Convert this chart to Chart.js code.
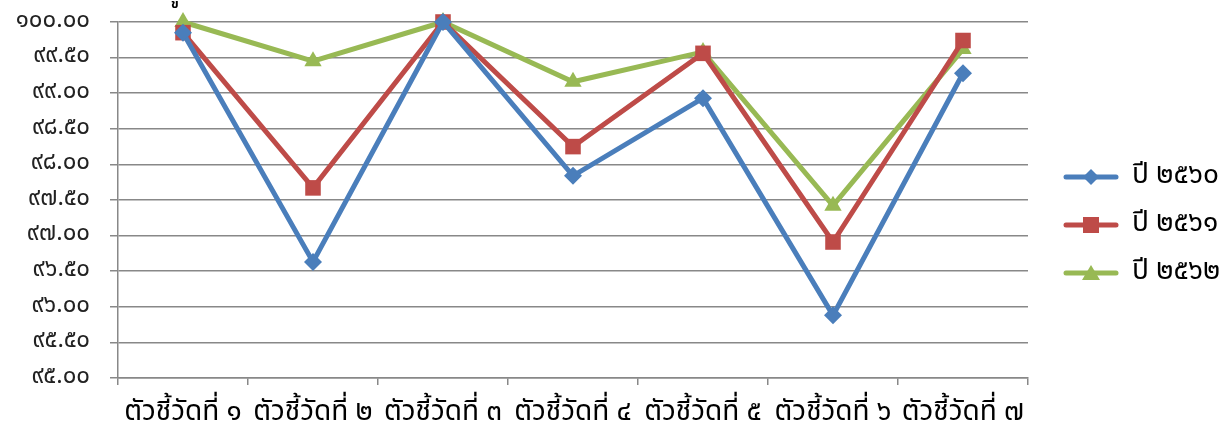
<!DOCTYPE html>
<html lang="th">
<head>
  <meta charset="UTF-8" />
  <title>ตัวชี้วัด</title>
  <style>
    html, body { margin: 0; padding: 0; background: #fff; }
    #wrap { width: 1229px; height: 428px; position: relative; }
  </style>
</head>
<body>
  <div id="wrap"><canvas id="chart"></canvas></div>

  <script src="https://cdn.jsdelivr.net/npm/chart.js"></script>
  <script>
    const categories = ['ตัวชี้วัดที่ ๑', 'ตัวชี้วัดที่ ๒', 'ตัวชี้วัดที่ ๓', 'ตัวชี้วัดที่ ๔',
                        'ตัวชี้วัดที่ ๕', 'ตัวชี้วัดที่ ๖', 'ตัวชี้วัดที่ ๗'];
    const seriesNames = ['ปี ๒๕๖๐', 'ปี ๒๕๖๑', 'ปี ๒๕๖๒'];
    const y2560 = [99.85, 96.63, 100.00, 97.84, 98.93, 95.88, 99.28];
    const y2561 = [99.85, 97.67, 100.00, 98.25, 99.56, 96.91, 99.74];
    const y2562 = [100.00, 99.45, 100.00, 99.16, 99.58, 97.42, 99.62];
    const yMin = 95, yMax = 100, yStep = 0.5;

    const thaiDigits = ['๐', '๑', '๒', '๓', '๔', '๕', '๖', '๗', '๘', '๙'];
    const toThai = s => String(s).replace(/[0-9]/g, d => thaiDigits[+d]);

    const FONT = 'Tahoma, "Noto Sans Thai", "Noto Sans", sans-serif';
    const colors = ['#4a7ebb', '#be4b48', '#98b954'];
    const styles = ['rectRot', 'rect', 'triangle'];

    // line + marker icon for the legend (blank strip on the left as spacing)
    function legendIcon(color, style) {
      const c = document.createElement('canvas');
      c.width = 72; c.height = 18;
      const g = c.getContext('2d');
      g.strokeStyle = color; g.fillStyle = color;
      g.lineWidth = 5; g.lineCap = 'round';
      g.beginPath(); g.moveTo(19, 9); g.lineTo(69, 9); g.stroke();
      g.beginPath();
      if (style === 'rectRot') {
        g.moveTo(44, 1); g.lineTo(52, 9); g.lineTo(44, 17); g.lineTo(36, 9);
      } else if (style === 'rect') {
        g.rect(36, 1, 16, 16);
      } else {
        g.moveTo(44, 1); g.lineTo(53, 16); g.lineTo(35, 16);
      }
      g.closePath(); g.fill();
      return c;
    }

    const makeSet = (label, data, i, radius) => ({
      label: label,
      data: data,
      borderColor: colors[i],
      backgroundColor: colors[i],
      borderWidth: 5,
      pointStyle: styles[i],
      pointRadius: radius,
      pointHoverRadius: radius,
      pointBorderWidth: 0,
      pointBackgroundColor: colors[i],
      tension: 0,
      clip: false
    });

    const topText = {
      id: 'topText',
      afterDraw(chart) {
        const ctx = chart.ctx;
        ctx.save();
        ctx.font = 'bold 13px ' + FONT;
        ctx.fillStyle = '#000';
        ctx.fillText('ข', 171, 8);
        ctx.restore();
      }
    };

    const chart = new Chart(document.getElementById('chart'), {
      type: 'line',
      data: {
        labels: categories,
        datasets: [
          makeSet(seriesNames[0], y2560, 0, 9),
          makeSet(seriesNames[1], y2561, 1, 11),
          makeSet(seriesNames[2], y2562, 2, 10)
        ]
      },
      options: {
        responsive: true,
        maintainAspectRatio: false,
        animation: false,
        layout: { padding: { top: 22, right: 0, left: 0, bottom: 0 } },
        plugins: {
          tooltip: { enabled: false },
          legend: {
            position: 'right',
            labels: {
              usePointStyle: true,
              pointStyleWidth: 70,
              padding: 20,
              color: '#000',
              font: { family: FONT, size: 28 },
              generateLabels(chart) {
                return chart.data.datasets.map((ds, i) => ({
                  text: ds.label,
                  fontColor: '#000',
                  pointStyle: legendIcon(colors[i], styles[i]),
                  fillStyle: colors[i],
                  strokeStyle: colors[i],
                  lineWidth: 0,
                  datasetIndex: i,
                  hidden: false
                }));
              }
            }
          }
        },
        scales: {
          x: {
            offset: true,
            afterFit: s => { s.height = 50; },
            grid: {
              offset: true,
              drawOnChartArea: false,
              tickLength: 7,
              color: '#888',
              lineWidth: 1.5
            },
            border: { color: '#888', width: 1.5 },
            ticks: {
              color: '#000',
              padding: 13,
              maxRotation: 0,
              autoSkip: false,
              font: { family: FONT, size: 28 }
            }
          },
          y: {
            min: yMin,
            max: yMax,
            afterFit: s => { s.width = 118; s.paddingTop = 0; s.paddingBottom = 0; },
            ticks: {
              stepSize: yStep,
              color: '#222',
              padding: 20,
              font: { family: FONT, size: 24 },
              callback: v => toThai(v.toFixed(2))
            },
            grid: {
              color: '#888',
              lineWidth: 1.5,
              tickLength: 8
            },
            border: { color: '#888', width: 1.5 }
          }
        }
      },
      plugins: [topText]
    });

    // legend takes the strip right of the plot (plot ends at x = 1028)
    const legendFit = chart.legend.fit.bind(chart.legend);
    chart.legend.fit = function () { legendFit(); this.width = 201; };
    chart.update();
  </script>
</body>
</html>
